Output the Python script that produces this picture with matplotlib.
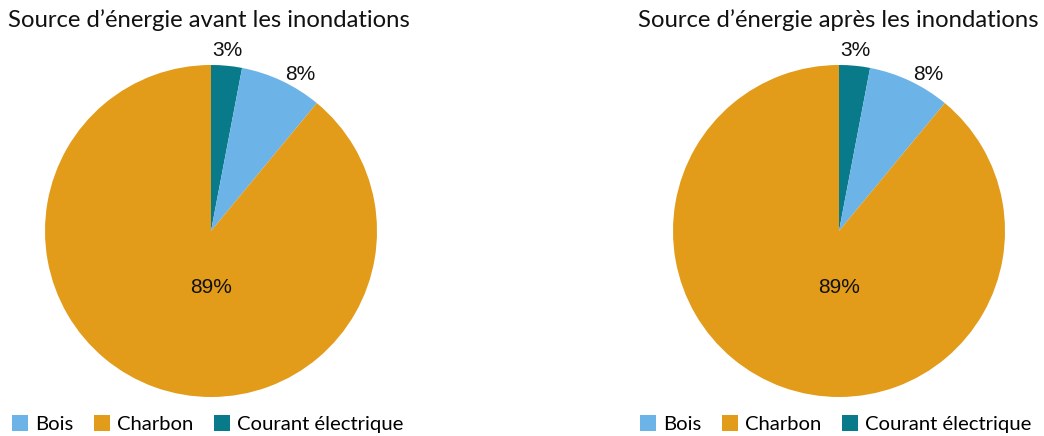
import matplotlib
matplotlib.use("Agg")
import matplotlib.pyplot as plt
from matplotlib.patches import Patch

# data
categories = ["Courant électrique", "Bois", "Charbon"]
avant = [3, 8, 89]
apres = [3, 8, 89]
titles = ["Source d’énergie avant les inondations", "Source d’énergie après les inondations"]
colors = {"Courant électrique": "#087A8A", "Bois": "#6CB4E8", "Charbon": "#E39B1A"}
legend_order = ["Bois", "Charbon", "Courant électrique"]

W, H = 1044, 436
fig = plt.figure(figsize=(W / 100, H / 100), dpi=100)

R = 166
panels = [(211, avant, titles[0], 8, 12), (839, apres, titles[1], 638, 640)]
for cx, vals, title, tx, lx in panels:
    ax = fig.add_axes([(cx - R) / W, (H - 231 - R) / H, 2 * R / W, 2 * R / H])
    wedges, texts, autotexts = ax.pie(
        vals, colors=[colors[c] for c in categories], startangle=90, counterclock=False,
        autopct="%d%%", pctdistance=1.1, radius=1.0,
        textprops=dict(fontsize=15, family=["Liberation Sans", "DejaVu Sans"], color="#111111"),
    )
    # small slices labelled outside, big slice inside below the centre
    autotexts[0].set_position((0.1, 1.085))
    autotexts[1].set_position((0.54, 0.94))
    autotexts[2].set_position((0, -0.34))
    ax.set_xlim(-1, 1)
    ax.set_ylim(-1, 1)
    ax.set_aspect("equal")
    ax.axis("off")

    fig.text(tx / W, 1 - 20 / H, title, fontsize=17.2, family=["Lato", "DejaVu Sans"],
             va="center", ha="left", color="#111111")

    handles = [Patch(facecolor=colors[c], edgecolor="none", label=c) for c in legend_order]
    fig.legend(handles=handles, loc="center left", bbox_to_anchor=((lx - 8) / W, 1 - 424 / H),
               ncol=3, frameon=False, handlelength=0.8, handleheight=0.8, handletextpad=0.35,
               columnspacing=1.0, prop=dict(family=["Lato", "DejaVu Sans"], size=14.6),
               borderaxespad=0)

fig.savefig("out.png", dpi=100)
